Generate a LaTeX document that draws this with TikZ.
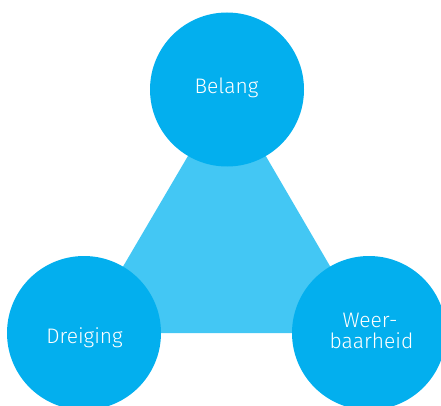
\documentclass[tikz,border=0pt]{standalone}
\usepackage{fontspec}
\setmainfont{Fira Sans Light}
\definecolor{circblue}{RGB}{3,175,238}
\definecolor{triblue}{RGB}{67,199,244}
\begin{document}
\begin{tikzpicture}[x=1pt,y=-1pt,
  bubble/.style={circle,fill=circblue,minimum size=154pt,inner sep=0pt},
  lbl/.style={anchor=base,inner sep=0pt,text=white,font=\fontsize{21}{22}\selectfont,align=center}]
\useasboundingbox (0,0) rectangle (441,406);
\clip (0,0) rectangle (441,406);
\coordinate (tb) at (227,89.5);
\coordinate (tl) at (84,333);
\coordinate (tr) at (369,333);
\fill[triblue] (tb) -- (tl) -- (tr) -- cycle;
\node[bubble] (belang) at (tb) {};
\node[bubble] (dreiging) at (tl) {};
\node[bubble] (weer) at (tr) {};
\node[lbl] (tbelang) at (226.5,94) {Belang};
\node[lbl] (tdreiging) at (84.5,343) {Dreiging};
\node[lbl] (tweer1) at (370,327) {Weer-};
\node[lbl] (tweer2) at (371.5,348) {baarheid};
\end{tikzpicture}
\end{document}
